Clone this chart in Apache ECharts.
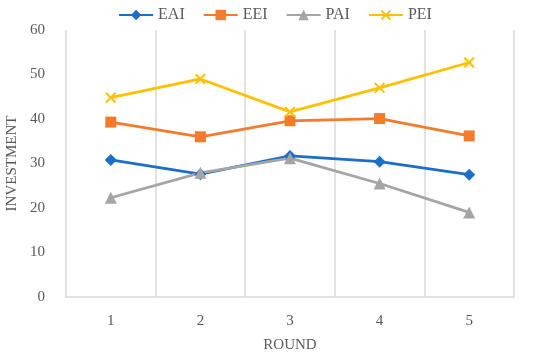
<!DOCTYPE html>
<html><head><meta charset="utf-8">
<script src="https://cdn.jsdelivr.net/npm/echarts@6/dist/echarts.min.js"></script>
<style>html,body{margin:0;padding:0;background:#fff}#c{width:550px;height:355px}</style>
</head><body><div id="c"></div>
<script>
var categories = ['1','2','3','4','5'];
var EAI = [30.8, 27.6, 31.7, 30.4, 27.5];
var EEI = [39.3, 36.0, 39.6, 40.1, 36.2];
var PAI = [22.3, 27.9, 31.2, 25.5, 19.0];
var PEI = [44.8, 49.0, 41.6, 47.0, 52.7];
var FONT = 'Liberation Serif';
var XPATH = 'path://M0,1.3 L1.3,0 L5,3.7 L8.7,0 L10,1.3 L6.3,5 L10,8.7 L8.7,10 L5,6.3 L1.3,10 L0,8.7 L3.7,5 Z';
var chart = echarts.init(document.getElementById('c'));
function s(name, data, color, symbol, size){
  return {name:name, type:'line', data:data, symbol:symbol, symbolSize:size,
    lineStyle:{color:color,width:2.8}, itemStyle:{color:color}, showSymbol:true};
}
chart.setOption({
  animation:false,
  textStyle:{fontFamily:FONT},
  legend:{top:2, left:'center', itemWidth:34, itemHeight:13, itemGap:18,
    textStyle:{fontFamily:FONT,fontSize:16,color:'#595959'},
    data:['EAI','EEI','PAI','PEI']},
  grid:{left:66,right:36,top:30,bottom:58,containLabel:false,outerBoundsMode:'none'},
  xAxis:{type:'category', data:categories, boundaryGap:true,
    name:'ROUND', nameLocation:'middle', nameGap:41,
    nameTextStyle:{fontFamily:FONT,fontSize:15,color:'#595959'},
    axisLine:{lineStyle:{color:'#d9d9d9',width:1.5}}, axisTick:{show:false},
    axisLabel:{fontFamily:FONT,fontSize:15,color:'#595959',margin:17},
    splitLine:{show:true,lineStyle:{color:'#d9d9d9',width:1.5}}},
  yAxis:{type:'value', min:0, max:60, interval:10,
    name:'INVESTMENT', nameLocation:'middle', nameGap:45,
    nameTextStyle:{fontFamily:FONT,fontSize:15,color:'#595959'},
    axisLine:{show:false}, axisTick:{show:false},
    axisLabel:{fontFamily:FONT,fontSize:15,color:'#595959',margin:21},
    splitLine:{show:false}},
  series:[
    s('EAI',EAI,'#1b6fc8','diamond',12),
    s('EEI',EEI,'#f47b2a','rect',11),
    s('PAI',PAI,'#a5a5a5','triangle',12),
    s('PEI',PEI,'#ffc000',XPATH,11)
  ]
});
</script></body></html>
